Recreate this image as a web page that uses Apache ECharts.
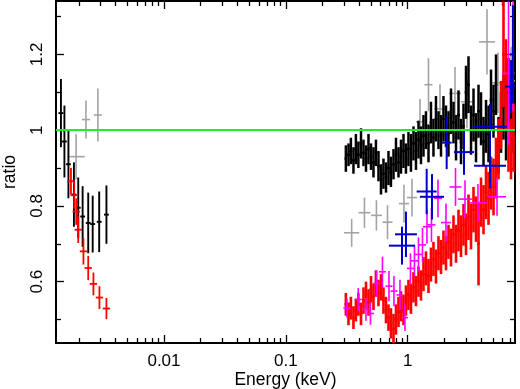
<!DOCTYPE html>
<html>
<head>
<meta charset="utf-8">
<script src="https://cdn.jsdelivr.net/npm/echarts@6/dist/echarts.min.js"></script>
<style>
  html, body { margin: 0; padding: 0; background: #fff; }
  #chart { width: 520px; height: 389px; }
</style>
</head>
<body>
<div id="chart"></div>
<script>
// axis ranges
const xMin = 0.0013;
const xMax = 7.6;
const yMin = 0.438;
const yMax = 1.341;

// tick values
const xMajorTicks = [0.01, 0.1, 1];
const xMinorTicks = [0.002, 0.003, 0.004, 0.005, 0.006, 0.007, 0.008, 0.009,
  0.02, 0.03, 0.04, 0.05, 0.06, 0.07, 0.08, 0.09,
  0.2, 0.3, 0.4, 0.5, 0.6, 0.7, 0.8, 0.9, 2, 3, 4, 5, 6, 7];
const yMajorTicks = [0.6, 0.8, 1, 1.2];
const yMinorTicks = [0.5, 0.7, 0.9, 1.1, 1.3];

// X-ray channels (keV), shared by the black and red spectra
const xrayEnergy = [0.311, 0.327, 0.342, 0.359, 0.376, 0.394, 0.414, 0.434, 0.455, 0.477,
  0.500, 0.524, 0.549, 0.576, 0.604, 0.633, 0.664, 0.696, 0.729, 0.765,
  0.802, 0.841, 0.881, 0.924, 0.968, 1.015, 1.064, 1.116, 1.170, 1.227,
  1.286, 1.348, 1.413, 1.482, 1.553, 1.628, 1.707, 1.790, 1.877, 1.967,
  2.063, 2.163, 2.268, 2.377, 2.493, 2.613, 2.740, 2.873, 3.011, 3.157,
  3.310, 3.470, 3.638, 3.814, 3.999, 4.192, 4.395, 4.608, 4.831, 5.064,
  5.309, 5.566, 5.834, 6.117, 6.413, 6.723, 7.048, 7.389];
const xrayHalfDex = 0.011;

const blackXray = [0.925, 0.935, 0.945, 0.92, 0.95, 0.935, 0.965, 0.94, 0.925, 0.95,
  0.93, 0.915, 0.94, 0.905, 0.87, 0.885, 0.875, 0.9, 0.89, 0.91,
  0.935, 0.915, 0.93, 0.945, 0.925, 0.95, 0.94, 0.965, 0.945, 0.975,
  0.96, 0.985, 1.0, 0.965, 1.02, 0.98, 1.03, 1.0, 0.985, 1.03,
  1.01, 0.99, 1.05, 1.02, 0.98, 1.04, 0.97, 1.01, 1.1, 1.12,
  1.0, 1.04, 0.98, 1.05, 1.03, 0.97, 1.01, 0.99, 1.08, 1.05,
  1.12, 0.96, 1.02, 1.06, 1.0, 1.1, 1.04, 1.03];
const blackXrayErr = [0.035, 0.03, 0.035, 0.035, 0.04, 0.035, 0.04, 0.035, 0.035, 0.04,
  0.035, 0.04, 0.035, 0.04, 0.04, 0.04, 0.04, 0.045, 0.04, 0.04,
  0.045, 0.04, 0.045, 0.045, 0.04, 0.045, 0.05, 0.045, 0.05, 0.05,
  0.05, 0.055, 0.05, 0.05, 0.055, 0.05, 0.06, 0.05, 0.055, 0.06,
  0.055, 0.06, 0.06, 0.055, 0.06, 0.065, 0.06, 0.06, 0.07, 0.075,
  0.065, 0.07, 0.065, 0.07, 0.07, 0.065, 0.07, 0.075, 0.08, 0.07,
  0.08, 0.075, 0.08, 0.085, 0.08, 0.09, 0.085, 0.09];

const redXray = [0.54, 0.515, 0.53, 0.505, 0.525, 0.54, 0.515, 0.55, 0.565, 0.545,
  0.58, 0.56, 0.595, 0.57, 0.585, 0.55, 0.525, 0.505, 0.49, 0.475,
  0.5, 0.52, 0.535, 0.525, 0.55, 0.565, 0.555, 0.585, 0.575, 0.6,
  0.59, 0.62, 0.635, 0.615, 0.645, 0.66, 0.64, 0.675, 0.665, 0.69,
  0.675, 0.705, 0.69, 0.725, 0.7, 0.735, 0.72, 0.75, 0.725, 0.77,
  0.745, 0.79, 0.765, 0.70, 0.81, 0.79, 0.835, 0.82, 0.86, 0.85,
  0.9, 0.95, 1.04, 1.2, 1.12, 0.98, 0.95, 0.98];
const redXrayErr = [0.03, 0.03, 0.03, 0.03, 0.03, 0.03, 0.03, 0.035, 0.035, 0.035,
  0.035, 0.035, 0.035, 0.035, 0.035, 0.035, 0.035, 0.035, 0.04, 0.04,
  0.04, 0.04, 0.04, 0.04, 0.04, 0.04, 0.04, 0.04, 0.04, 0.04,
  0.04, 0.045, 0.045, 0.045, 0.045, 0.045, 0.045, 0.045, 0.045, 0.045,
  0.045, 0.045, 0.05, 0.05, 0.05, 0.055, 0.055, 0.055, 0.055, 0.06,
  0.06, 0.06, 0.06, 0.11, 0.065, 0.065, 0.07, 0.07, 0.07, 0.075,
  0.08, 0.08, 0.09, 0.14, 0.12, 0.09, 0.08, 0.09];

// UV / optical points
const blackUvEnergy = [0.001427, 0.001524, 0.001644, 0.001824, 0.001979, 0.00215, 0.00239, 0.0026, 0.00294, 0.003372];
const blackUv = [1.045, 0.97, 0.91, 0.83, 0.795, 0.772, 0.755, 0.752, 0.758, 0.777];
const blackUvErr = [0.09, 0.095, 0.09, 0.085, 0.08, 0.08, 0.08, 0.075, 0.08, 0.077];

const redUvEnergy = [0.001724, 0.001834, 0.001905, 0.001979, 0.002183, 0.00239, 0.002637, 0.002954, 0.003372];
const redUv = [0.865, 0.828, 0.785, 0.737, 0.68, 0.636, 0.594, 0.558, 0.529];
const redUvErr = [0.035, 0.035, 0.035, 0.035, 0.035, 0.032, 0.03, 0.03, 0.028];

// grey, magenta and blue data sets
const greyEnergy = [0.0019, 0.00229, 0.00287, 0.347, 0.442, 0.554, 0.683, 0.932, 1.085, 1.262,
  1.482, 1.842, 2.445, 3.068, 4.478, 5.513, 7.048];
const greyRatio = [0.93, 1.028, 1.04, 0.729, 0.782, 0.775, 0.757, 0.806, 0.822, 1.022,
  1.12, 1.056, 1.097, 1.075, 1.233, 1.125, 1.13];
const greyErr = [0.06, 0.05, 0.07, 0.037, 0.04, 0.04, 0.045, 0.05, 0.05, 0.06,
  0.07, 0.065, 0.07, 0.07, 0.086, 0.08, 0.09];
const greyHalfDex = [0.071, 0.033, 0.033, 0.062, 0.049, 0.045, 0.041, 0.041, 0.041, 0.033,
  0.033, 0.049, 0.049, 0.049, 0.066, 0.057, 0.049];

const magentaEnergy = [0.3174, 0.3929, 0.4546, 0.4951, 0.5565, 0.6209, 0.7024, 0.7717, 0.8646, 0.9502,
  1.054, 1.137, 1.227, 1.323, 1.44, 1.568, 1.774, 2.063, 2.469, 2.954,
  3.777, 5.41, 6.723, 7.32];
const magentaRatio = [0.53, 0.553, 0.527, 0.516, 0.595, 0.626, 0.588, 0.575, 0.565, 0.505,
  0.635, 0.655, 0.672, 0.697, 0.745, 0.75, 0.82, 0.756, 0.85, 0.818,
  0.808, 0.824, 1.15, 1.2];
const magentaErr = [0.025, 0.03, 0.03, 0.03, 0.035, 0.04, 0.04, 0.04, 0.04, 0.035,
  0.04, 0.04, 0.045, 0.045, 0.045, 0.045, 0.05, 0.05, 0.05, 0.05,
  0.05, 0.05, 0.19, 0.15];
const magentaHalfDex = [0.029, 0.029, 0.029, 0.029, 0.029, 0.029, 0.029, 0.029, 0.029, 0.025,
  0.029, 0.029, 0.029, 0.029, 0.033, 0.033, 0.033, 0.041, 0.049, 0.057,
  0.074, 0.074, 0.05, 0.02];

const blueEnergy = [0.898, 0.968, 1.432, 1.583, 2.09, 2.9, 4.739, 4.739, 7.048, 7.3];
const blueRatio = [0.695, 0.725, 0.838, 0.824, 0.967, 0.942, 0.906, 1.009, 1.115, 1.2];
const blueErr = [0.05, 0.06, 0.06, 0.06, 0.07, 0.06, 0.06, 0.06, 0.07, 0.13];
const blueHalfDex = [0.107, 0.09, 0.082, 0.099, 0.041, 0.082, 0.131, 0.14, 0.049, 0.025];

const FONT = '"Liberation Sans", Arial, Helvetica, sans-serif';

// [energy, ratio, half width in dex, ratio error]
function toItems(energy, ratio, halfDex, err) {
  return energy.map((e, i) => [
    e,
    ratio[i],
    Array.isArray(halfDex) ? halfDex[i] : halfDex,
    err[i],
  ]);
}

function crossRenderer(color, width) {
  return (params, api) => {
    const e = api.value(0);
    const r = api.value(1);
    const f = Math.pow(10, api.value(2));
    const dy = api.value(3);
    const lo = api.coord([e / f, r]);
    const hi = api.coord([e * f, r]);
    const top = api.coord([e, r + dy]);
    const bot = api.coord([e, r - dy]);
    const style = { stroke: color, lineWidth: width };
    return {
      type: 'group',
      children: [
        { type: 'line', shape: { x1: lo[0], y1: lo[1], x2: hi[0], y2: hi[1] }, style },
        { type: 'line', shape: { x1: top[0], y1: top[1], x2: bot[0], y2: bot[1] }, style },
      ],
    };
  };
}

function crossSeries(name, data, color, width) {
  return {
    name,
    type: 'custom',
    renderItem: crossRenderer(color, width),
    data,
    clip: true,
    encode: { x: 0, y: 1 },
    silent: true,
  };
}

const frameLine = { show: true, onZero: false, lineStyle: { color: '#000', width: 2 } };
const tickStyle = { color: '#000', width: 1.3 };

function xAxisOf(position, ticks, length, withLabels) {
  return {
    type: 'log',
    logBase: 10,
    position,
    min: xMin,
    max: xMax,
    splitLine: { show: false },
    axisLine: withLabels !== null ? frameLine : { show: false },
    axisTick: { show: true, inside: true, length, customValues: ticks, lineStyle: tickStyle },
    axisLabel: withLabels
      ? { show: true, customValues: xMajorTicks, formatter: (v) => String(v), color: '#000', fontSize: 17, fontFamily: FONT, margin: 10 }
      : { show: false },
  };
}

function yAxisOf(position, ticks, length, withLabels) {
  return {
    type: 'value',
    position,
    min: yMin,
    max: yMax,
    splitLine: { show: false },
    axisLine: withLabels !== null ? frameLine : { show: false },
    axisTick: { show: true, inside: true, length, customValues: ticks, lineStyle: tickStyle },
    axisLabel: withLabels
      ? { show: true, customValues: yMajorTicks, rotate: 90, formatter: (v) => String(v), color: '#000', fontSize: 17, fontFamily: FONT, margin: 10 }
      : { show: false },
  };
}

const chart = echarts.init(document.getElementById('chart'));

const xAxes = [
  xAxisOf('bottom', xMajorTicks, 8, true),
  xAxisOf('bottom', xMinorTicks, 5, null),
  xAxisOf('top', xMajorTicks, 8, false),
  xAxisOf('top', xMinorTicks, 5, null),
];
Object.assign(xAxes[0], {
  name: 'Energy (keV)',
  nameLocation: 'middle',
  nameGap: 28,
  nameMoveOverlap: false,
  nameTextStyle: { color: '#000', fontSize: 17.5, fontFamily: FONT },
});

const yAxes = [
  yAxisOf('left', yMajorTicks, 8, true),
  yAxisOf('left', yMinorTicks, 5, null),
  yAxisOf('right', yMajorTicks, 8, false),
  yAxisOf('right', yMinorTicks, 5, null),
];
Object.assign(yAxes[0], {
  name: 'ratio',
  nameLocation: 'middle',
  nameGap: 37,
  nameRotate: 90,
  nameMoveOverlap: false,
  nameTextStyle: { color: '#000', fontSize: 17.5, fontFamily: FONT },
});

chart.setOption({
  animation: false,
  backgroundColor: '#fff',
  grid: { left: 56, right: 5, top: 1, bottom: 46, containLabel: false, outerBoundsMode: 'none' },
  xAxis: xAxes,
  yAxis: yAxes,
  series: [
    crossSeries('grey', toItems(greyEnergy, greyRatio, greyHalfDex, greyErr), '#a3a3a3', 1.6),
    crossSeries('black uv', toItems(blackUvEnergy, blackUv, 0.02, blackUvErr), '#000', 1.9),
    crossSeries('black x-ray', toItems(xrayEnergy, blackXray, xrayHalfDex, blackXrayErr), '#000', 2.5),
    crossSeries('red uv', toItems(redUvEnergy, redUv, 0.03, redUvErr), '#ff0000', 1.8),
    crossSeries('red x-ray', toItems(xrayEnergy, redXray, xrayHalfDex, redXrayErr), '#ff0000', 2.6),
    crossSeries('magenta', toItems(magentaEnergy, magentaRatio, magentaHalfDex, magentaErr), '#ff00ff', 1.6),
    crossSeries('blue', toItems(blueEnergy, blueRatio, blueHalfDex, blueErr), '#0000cc', 2),
    {
      name: 'unity',
      type: 'line',
      data: [],
      silent: true,
      z: 10,
      markLine: {
        silent: true,
        symbol: 'none',
        label: { show: false },
        lineStyle: { color: '#22ee22', width: 2, type: 'solid' },
        data: [{ yAxis: 1 }],
      },
    },
  ],
});
</script>
</body>
</html>
